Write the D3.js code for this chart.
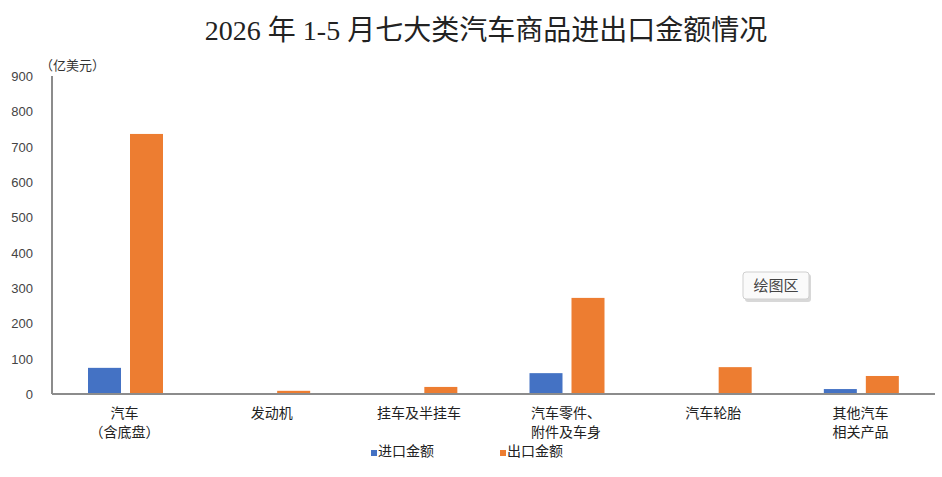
<!DOCTYPE html>
<html>
<head>
<meta charset="utf-8">
<script src="https://cdn.jsdelivr.net/npm/d3@7"></script>
<style>
  body { margin: 0; background: #fff; }
  svg { display: block; font-family: "Noto Sans CJK SC", "Noto Sans", sans-serif; }
</style>
</head>
<body>
<svg id="chart" width="942" height="477"></svg>
<script>
// 分类与数据（亿美元）
const categories = ["汽车\n（含底盘）", "发动机", "挂车及半挂车", "汽车零件、\n附件及车身", "汽车轮胎", "其他汽车\n相关产品"];
const seriesNames = ["进口金额", "出口金额"];
const importValues = [74, 0, 0, 59, 0, 14];
const exportValues = [736, 9, 20, 272, 76, 51];
const yTicks = [0, 100, 200, 300, 400, 500, 600, 700, 800, 900];

const colors = { "进口金额": "#4472C4", "出口金额": "#ED7D31" };

const svg = d3.select("#chart");
const plotLeft = 52, plotRight = 935, plotTop = 76, plotBottom = 394;

const x0 = d3.scaleBand().domain(categories).range([plotLeft, plotRight]);
const x1 = d3.scaleBand().domain(seriesNames).range([36, 111]).paddingInner(9 / 42);
const y = d3.scaleLinear().domain([0, 900]).range([plotBottom, plotTop]);

// 标题
svg.append("text")
  .attr("x", 486).attr("y", 40)
  .attr("text-anchor", "middle")
  .attr("font-family", "'Liberation Serif', 'Noto Sans CJK SC', serif")
  .attr("font-size", 28)
  .attr("fill", "#222")
  .text("2026 年 1-5 月七大类汽车商品进出口金额情况");

// 单位
svg.append("text")
  .attr("x", 40).attr("y", 70)
  .attr("font-size", 13).attr("fill", "#333")
  .text("（亿美元）");

// Y 轴刻度
svg.append("g").selectAll("text")
  .data(yTicks)
  .join("text")
  .attr("x", 33).attr("y", (d) => y(d) + 5)
  .attr("text-anchor", "end")
  .attr("font-family", "'Liberation Sans', Arial, sans-serif")
  .attr("font-size", 13).attr("fill", "#444")
  .text((d) => d);

// 柱子
const rows = categories.map((c, i) => ({ cat: c, vals: [importValues[i], exportValues[i]] }));
const g = svg.append("g").selectAll("g")
  .data(rows)
  .join("g")
  .attr("transform", (d) => `translate(${x0(d.cat)},0)`);

g.selectAll("rect")
  .data((d) => seriesNames.map((s, j) => ({ s, v: d.vals[j] })))
  .join("rect")
  .attr("x", (d) => x1(d.s))
  .attr("width", x1.bandwidth())
  .attr("y", (d) => y(d.v))
  .attr("height", (d) => plotBottom - y(d.v))
  .attr("fill", (d) => colors[d.s]);

// 轴线
svg.append("line")
  .attr("x1", plotLeft).attr("x2", plotLeft).attr("y1", plotTop).attr("y2", plotBottom)
  .attr("stroke", "#8c8c8c").attr("stroke-width", 2);
svg.append("line")
  .attr("x1", plotLeft).attr("x2", plotRight).attr("y1", plotBottom).attr("y2", plotBottom)
  .attr("stroke", "#8c8c8c").attr("stroke-width", 2);

// 分类标签
svg.append("g").selectAll("text")
  .data(categories)
  .join("text")
  .attr("text-anchor", "middle")
  .attr("font-size", 14).attr("fill", "#222")
  .each(function (d) {
    const lines = d.split("\n");
    d3.select(this).selectAll("tspan")
      .data(lines)
      .join("tspan")
      .attr("x", x0(d) + x0.bandwidth() / 2 - 1)
      .attr("y", (t, k) => 418 + k * 19)
      .text((t) => t);
  });

// 图例
const legend = svg.append("g").selectAll("g")
  .data(seriesNames)
  .join("g")
  .attr("transform", (d, i) => `translate(${371 + i * 129},456)`);
legend.append("rect")
  .attr("x", 0).attr("y", -6).attr("width", 6).attr("height", 6)
  .attr("fill", (d) => colors[d]);
legend.append("text")
  .attr("x", 7).attr("y", 0)
  .attr("font-size", 14).attr("fill", "#222")
  .text((d) => d);

// 提示框“绘图区”
const tip = svg.append("g").attr("transform", "translate(743,272)");
tip.append("rect")
  .attr("x", 2).attr("y", 2).attr("width", 66).attr("height", 28).attr("rx", 3)
  .attr("fill", "#d8d8d8");
tip.append("rect")
  .attr("x", 0).attr("y", 0).attr("width", 66).attr("height", 27).attr("rx", 3)
  .attr("fill", "#fafafa").attr("stroke", "#cfcfcf");
tip.append("text")
  .attr("x", 33).attr("y", 19)
  .attr("text-anchor", "middle")
  .attr("font-size", 15).attr("fill", "#444")
  .text("绘图区");
</script>
</body>
</html>
